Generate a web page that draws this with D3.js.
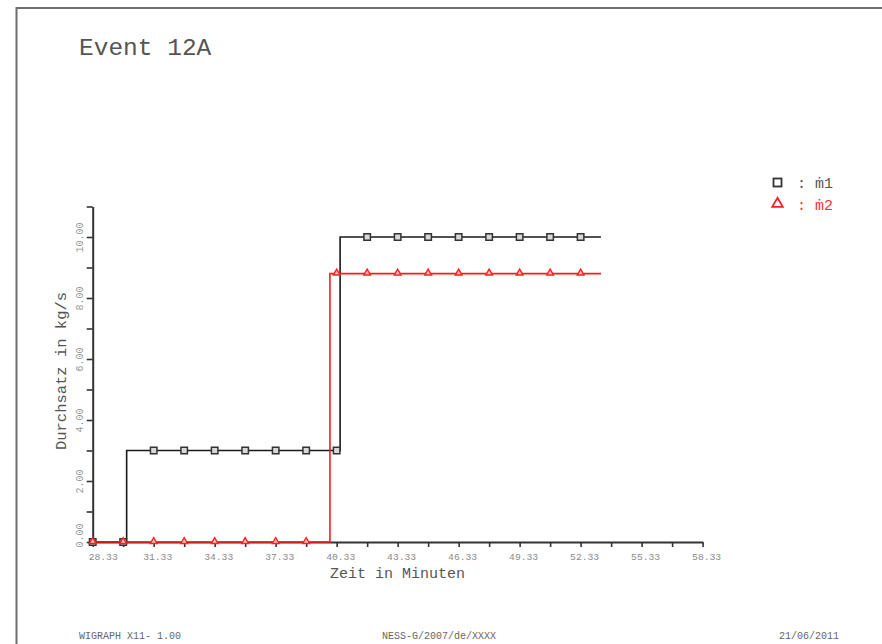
<!DOCTYPE html>
<html>
<head>
<meta charset="utf-8">
<script src="https://cdn.jsdelivr.net/npm/d3@7"></script>
<style>
  html, body { margin: 0; padding: 0; background: #fff; }
  svg { display: block; }
  text { font-family: "Liberation Mono", "DejaVu Sans Mono", monospace; }
</style>
</head>
<body>
<svg id="chart" width="882" height="644"></svg>
<script>
// Step series (time in minutes, throughput in kg/s)
const m1Time  = [28.33, 30.0, 30.0, 40.5, 40.5, 53.33];
const m1Value = [0, 0, 3, 3, 10, 10];
const m2Time  = [28.33, 40.0, 40.0, 53.33];
const m2Value = [0, 0, 8.8, 8.8];

// Symbol positions along the curves
const markerTime = [28.33, 29.83, 31.33, 32.83, 34.33, 35.83, 37.33, 38.83, 40.33,
                    41.83, 43.33, 44.83, 46.33, 47.83, 49.33, 50.83, 52.33];
const m1Marker = [0, 0, 3, 3, 3, 3, 3, 3, 3, 10, 10, 10, 10, 10, 10, 10, 10];
const m2Marker = [0, 0, 0, 0, 0, 0, 0, 0, 8.8, 8.8, 8.8, 8.8, 8.8, 8.8, 8.8, 8.8, 8.8];

// Axis ticks
const xTicks = [28.33, 29.83, 31.33, 32.83, 34.33, 35.83, 37.33, 38.83, 40.33, 41.83, 43.33,
                44.83, 46.33, 47.83, 49.33, 50.83, 52.33, 53.83, 55.33, 56.83, 58.33];
const xLabels = ["28.33", "31.33", "34.33", "37.33", "40.33", "43.33", "46.33", "49.33", "52.33", "55.33", "58.33"];
const yTicks = [0, 1, 2, 3, 4, 5, 6, 7, 8, 9, 10, 11];
const yLabels = ["0.00", "2.00", "4.00", "6.00", "8.00", "10.00"];

const svg = d3.select("#chart");

const x = d3.scaleLinear().domain([28.33, 58.33]).range([92.7, 702.6]);
const y = d3.scaleLinear().domain([0, 11]).range([542, 206.5]);

// Page frame
svg.append("path")
  .attr("d", "M16.5,650 V8 H890")
  .attr("fill", "none").attr("stroke", "#6f6f6f").attr("stroke-width", 2);

// Title
svg.append("text").attr("x", 79).attr("y", 55)
  .attr("font-size", 24.5).attr("fill", "#555").text("Event 12A");

// X axis
const xAxis = d3.axisBottom(x).tickValues(xTicks).tickSize(5).tickSizeOuter(0)
  .tickFormat(d => { const s = d.toFixed(2); return xLabels.includes(s) ? s : ""; });
const gx = svg.append("g").attr("transform", "translate(0,542)").call(xAxis);
gx.select(".domain").attr("stroke", "#333").attr("stroke-width", 2);
gx.selectAll(".tick line").attr("stroke", "#333").attr("stroke-width", 1.6);
gx.selectAll(".tick text")
  .attr("font-family", "Liberation Mono, DejaVu Sans Mono, monospace")
  .attr("font-size", 9.7).attr("fill", "#8a8a8a")
  .attr("y", 11)
  .attr("dx", (d, i) => i === 0 ? 10 : 3.5);

// Y axis
const yAxis = d3.axisLeft(y).tickValues(yTicks).tickSize(6).tickSizeOuter(0)
  .tickFormat(d => { const s = d.toFixed(2); return yLabels.includes(s) ? s : ""; });
const gy = svg.append("g").attr("transform", "translate(92.7,0)").call(yAxis);
gy.select(".domain").attr("stroke", "#333").attr("stroke-width", 2);
gy.selectAll(".tick line").attr("stroke", "#333").attr("stroke-width", 1.6);
gy.selectAll(".tick text")
  .attr("font-family", "Liberation Mono, DejaVu Sans Mono, monospace")
  .attr("font-size", 10).attr("fill", "#999")
  .attr("x", null).attr("dy", null)
  .attr("text-anchor", "middle")
  .attr("transform", d => `translate(-12,${d === 0 ? -7 : 0}) rotate(-90)`)
  .attr("dominant-baseline", "central");

// Axis titles
svg.append("text").attr("x", 397.5).attr("y", 578).attr("text-anchor", "middle")
  .attr("font-size", 15).attr("fill", "#555").text("Zeit in Minuten");
svg.append("text").attr("text-anchor", "middle")
  .attr("transform", "translate(66,371) rotate(-90)")
  .attr("font-size", 15.5).attr("fill", "#555").text("Durchsatz in kg/s");

// Curves
const line = d3.line().x(d => x(d[0])).y(d => y(d[1]));
const m1 = m1Time.map((t, i) => [t, m1Value[i]]);
const m2 = m2Time.map((t, i) => [t, m2Value[i]]);

svg.append("path").datum(m1).attr("d", line)
  .attr("fill", "none").attr("stroke", "#1a1a1a").attr("stroke-width", 1.6);

const sq = 6.5;
svg.append("g").selectAll("rect")
  .data(markerTime.map((t, i) => [t, m1Marker[i]]))
  .join("rect")
  .attr("x", d => x(d[0]) - sq / 2).attr("y", d => y(d[1]) - sq / 2)
  .attr("width", sq).attr("height", sq)
  .attr("fill", "#d8d8d8").attr("stroke", "#333").attr("stroke-width", 1.5);

svg.append("path").datum(m2).attr("d", line)
  .attr("fill", "none").attr("stroke", "#ff1a1a").attr("stroke-width", 1.6);

const tri = d3.symbol().type(d3.symbolTriangle).size(20);
svg.append("g").selectAll("path")
  .data(markerTime.map((t, i) => [t, m2Marker[i]]))
  .join("path")
  .attr("d", tri)
  .attr("transform", d => `translate(${x(d[0])},${y(d[1]) - 0.5})`)
  .attr("fill", "#ffc0c0").attr("stroke", "#ff2020").attr("stroke-width", 1.4);

// Legend
svg.append("rect").attr("x", 773.5).attr("y", 178.5).attr("width", 8).attr("height", 8)
  .attr("fill", "none").attr("stroke", "#333").attr("stroke-width", 1.8);
svg.append("text").attr("x", 797).attr("y", 187.5)
  .attr("font-size", 15).attr("fill", "#555").text(": \u1E411");

svg.append("path")
  .attr("d", d3.symbol().type(d3.symbolTriangle).size(48))
  .attr("transform", "translate(777.5,203.8)")
  .attr("fill", "none").attr("stroke", "#ff2020").attr("stroke-width", 1.8);
svg.append("text").attr("x", 797).attr("y", 209.5)
  .attr("font-size", 15).attr("fill", "#ff3030").text(": \u1E412");

// Footer
const footer = svg.append("g").attr("font-size", 10).attr("fill", "#666");
footer.append("text").attr("x", 79).attr("y", 639).text("WIGRAPH X11- 1.00");
footer.append("text").attr("x", 382).attr("y", 639).text("NESS-G/2007/de/XXXX");
footer.append("text").attr("x", 779).attr("y", 639).text("21/06/2011");
</script>
</body>
</html>
